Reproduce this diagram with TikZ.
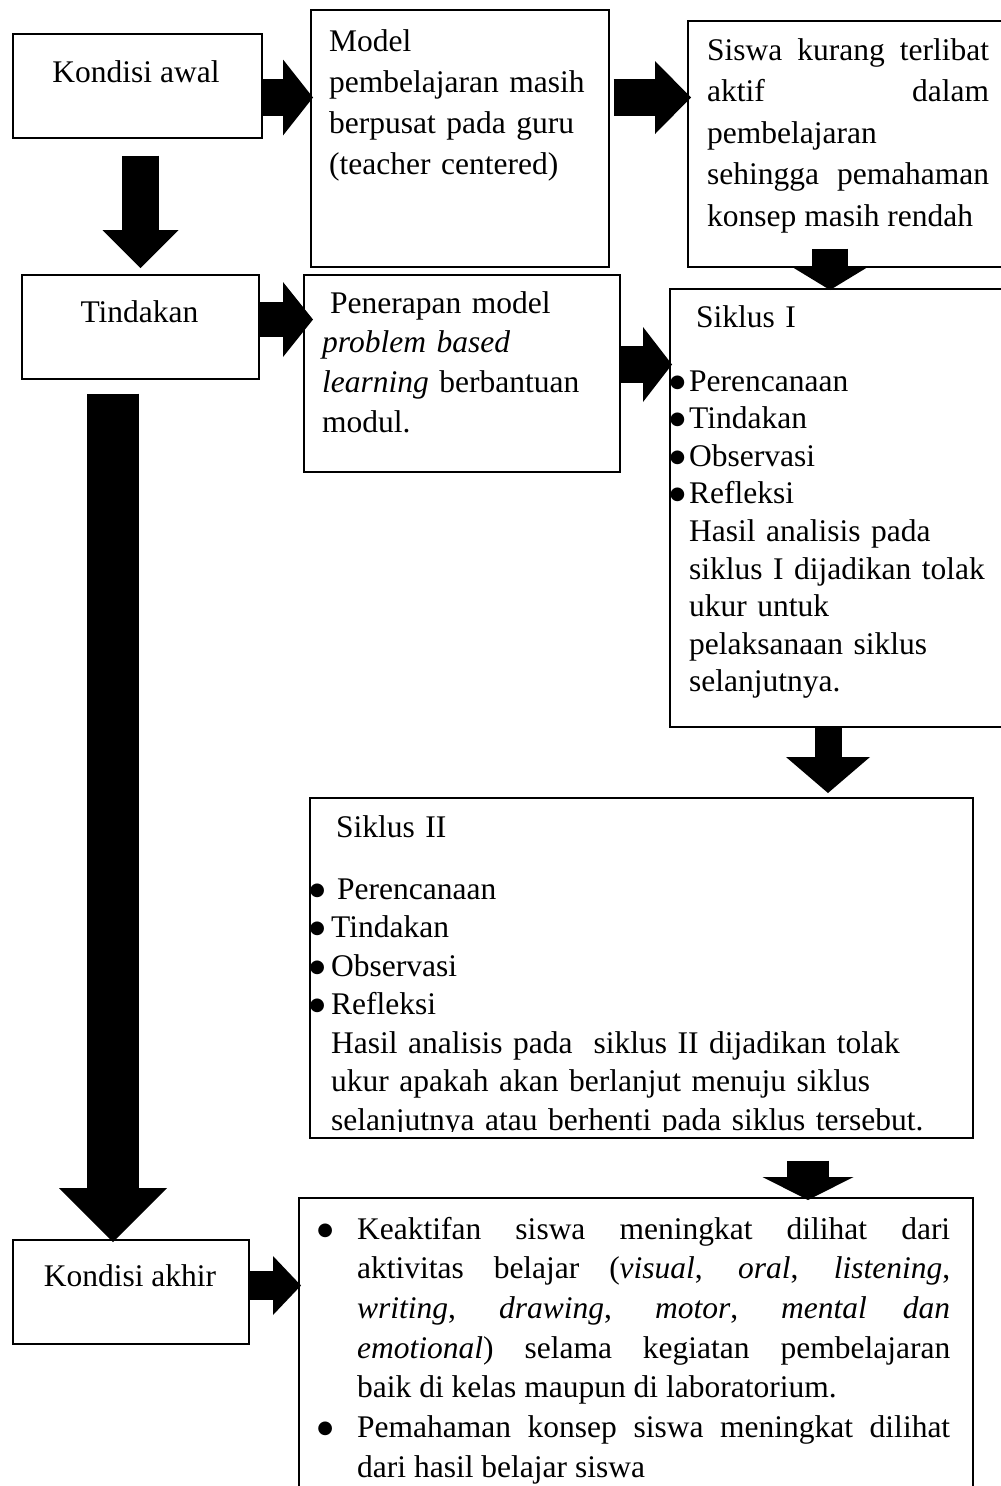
\documentclass[tikz,border=0pt]{standalone}
\usepackage{fontspec}
\setmainfont{Liberation Serif}
\newfontfamily\simbol{DejaVu Sans}
\usepackage{tikz}
\usetikzlibrary{arrows.meta,calc}

\newcommand{\titik}{\raisebox{4pt}{\fontsize{18}{18}\simbol ●}}

\begin{document}
\begin{tikzpicture}[x=1pt,y=-1pt,
        kotak/.style={draw, line width=1.5pt, anchor=north west, inner sep=0pt},
        teks/.style={anchor=base west, inner sep=0pt, align=left, font=\fontsize{31.5}{#1}\selectfont},
        teks/.default=40,
        panah/.style n args={3}{line width=#1, -{Triangle[width=#2,length=#3,line width=0pt]}}]

        \clip (0,0) rectangle (1001,1486);
        \fill[white] (0,0) rectangle (1001,1486);

        % kotak
        \node[kotak, minimum width=249pt, minimum height=104pt] (awal) at (12,33) {};
        \node[kotak, minimum width=298pt, minimum height=257pt] (model) at (310,9) {};
        \node[kotak, minimum width=330pt, minimum height=246pt] (siswa) at (687,20) {};
        \node[kotak, minimum width=237pt, minimum height=104pt] (tindakan) at (21,274) {};
        \node[kotak, minimum width=316pt, minimum height=197pt] (terap) at (303,274) {};
        \node[kotak, minimum width=345pt, minimum height=438pt] (siklus1) at (669,288) {};
        \node[kotak, minimum width=663pt, minimum height=340pt] (siklus2) at (309,797) {};
        \node[kotak, minimum width=236pt, minimum height=104pt] (akhir) at (12,1239) {};
        \node[kotak, minimum width=674pt, minimum height=320pt] (hasil) at (298,1197) {};

        % teks
        \node[teks, anchor=base] (tawal) at (136,82) {Kondisi awal};
        \node[teks=41, text width=270pt] (tmodel) at (329,51) {Model\\pembelajaran masih\\berpusat pada guru\\(teacher centered)};
        \node[teks=41.5, text width=282pt, align=justify] (tsiswa) at (707,60) {Siswa kurang terlibat\linebreak aktif dalam\linebreak pembelajaran\newline sehingga pemahaman\linebreak konsep masih rendah};
        \node[teks, anchor=base] (ttindakan) at (139.5,322) {Tindakan};
        \node[teks=39.7, text width=290pt] (tterap) at (322,313) {\hspace*{8pt}Penerapan model\\\textit{problem based}\\\textit{learning} berbantuan\\modul.};
        \node[teks=37.6, text width=300pt] (tsiklus1) at (689,327) {\hspace*{7pt}Siklus I\\[26.4pt]
            \leavevmode\llap{\titik\hspace{4pt}}Perencanaan\\
            \leavevmode\llap{\titik\hspace{4pt}}Tindakan\\
            \leavevmode\llap{\titik\hspace{4pt}}Observasi\\
            \leavevmode\llap{\titik\hspace{4pt}}Refleksi\\
            Hasil analisis pada\\siklus I dijadikan tolak\\ukur untuk\\pelaksanaan siklus\\selanjutnya.};
        \begin{scope}
            \clip (309,797) rectangle (972,1131);
            \node[teks=38.5, text width=630pt] (tsiklus2) at (331,837) {\hspace*{5pt}Siklus II\\[23.5pt]
                \leavevmode\llap{\titik\hspace{6pt}}\hspace*{6pt}Perencanaan\\
                \leavevmode\llap{\titik\hspace{6pt}}Tindakan\\
                \leavevmode\llap{\titik\hspace{6pt}}Observasi\\
                \leavevmode\llap{\titik\hspace{6pt}}Refleksi\\
                Hasil analisis pada~ siklus II dijadikan tolak\\
                ukur apakah akan berlanjut menuju siklus\\
                selanjutnya atau berhenti pada siklus tersebut.};
        \end{scope}
        \node[teks, anchor=base] (takhir) at (130,1286) {Kondisi akhir};
        \node[teks=39.7, text width=593pt, align=justify] (thasil) at (357,1239) {\noindent\llap{\titik\hspace{24pt}}Keaktifan siswa meningkat dilihat dari\linebreak
            aktivitas belajar (\textit{visual}, \textit{oral}, \textit{listening},\linebreak
            \textit{writing}, \textit{drawing}, \textit{motor}, \textit{mental dan}\linebreak
            \textit{emotional}) selama kegiatan pembelajaran\linebreak
            baik di kelas maupun di laboratorium.\par
            \noindent\llap{\titik\hspace{24pt}}Pemahaman konsep siswa meningkat dilihat\linebreak
            dari hasil belajar siswa};

        % panah
        \draw[panah={37pt}{76pt}{30pt}, shorten >=-3pt] (awal.east |- 0,97.5) -- (model.west |- 0,97.5);
        \draw[panah={37pt}{73pt}{36pt}, shorten <=4pt, shorten >=-4pt] (model.east |- 0,97.5) -- (siswa.west |- 0,97.5);
        \draw[panah={37pt}{76pt}{38pt}, shorten <=17pt, shorten >=6pt] (awal.south -| 140.5,0) -- (tindakan.north -| 140.5,0);
        \draw[panah={35pt}{75pt}{30pt}, shorten >=-10pt] (tindakan.east |- 0,319.5) -- (terap.west |- 0,319.5);
        \draw[panah={37pt}{75pt}{29pt}, shorten >=-3pt] (terap.east |- 0,364.5) -- (siklus1.west |- 0,364.5);
        \draw[panah={36pt}{79pt}{24pt}, shorten >=-2pt] ($(siswa.south -| 830,0)+(0,-19)$) -- (siklus1.north -| 830,0);
        \draw[panah={27pt}{84pt}{36pt}, shorten >=4pt] (siklus1.south -| 828,0) -- (siklus2.north -| 828,0);
        \draw[panah={52pt}{108pt}{54pt}, shorten <=14pt, shorten >=-3pt] (tindakan.south -| 113,0) -- (akhir.north -| 113,0);
        \draw[panah={42pt}{91pt}{23pt}, shorten <=22pt, shorten >=-3pt] (siklus2.south -| 808,0) -- (hasil.north -| 808,0);
        \draw[panah={29pt}{59pt}{28pt}, shorten >=-3pt] (akhir.east |- 0,1285.5) -- (hasil.west |- 0,1285.5);

\end{tikzpicture}
\end{document}
